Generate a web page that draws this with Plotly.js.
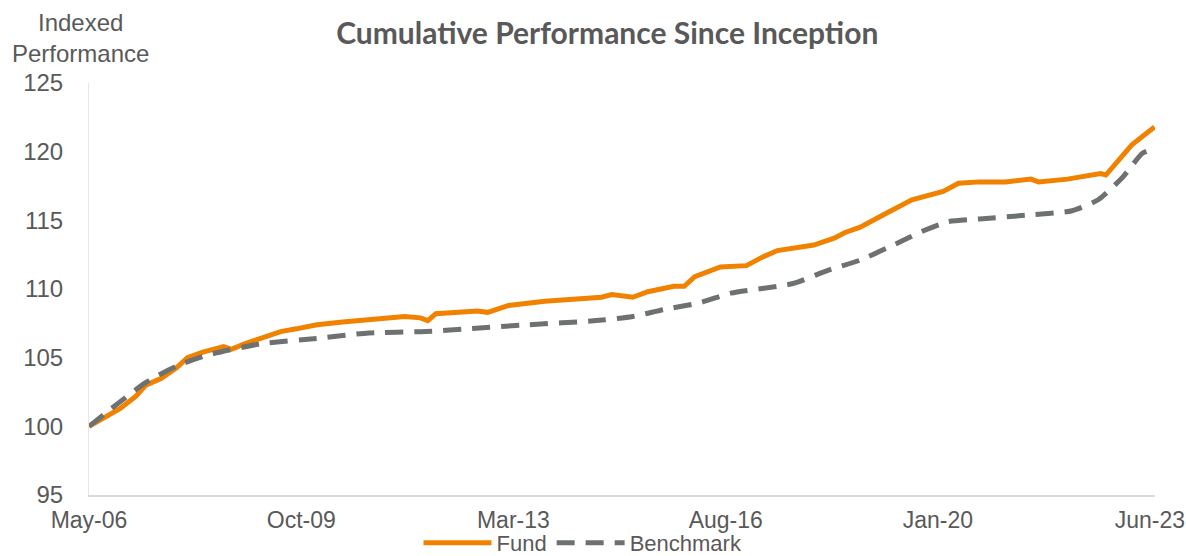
<!DOCTYPE html>
<html>
<head>
<meta charset="utf-8">
<script src="https://cdn.plot.ly/plotly-3.0.1.min.js"></script>
<style>html,body{margin:0;padding:0;background:#fff;}#chart{width:1186px;height:556px;}</style>
</head>
<body>
<div id="chart"></div>
<script>
const fundDates = ["2006-05-01","2006-08-01","2006-11-01","2007-02-01","2007-04-01","2007-07-01","2007-10-01","2007-12-01","2008-03-01","2008-07-01","2008-08-15","2008-11-01","2009-02-01","2009-06-01","2009-09-01","2010-01-01","2010-06-01","2011-01-01","2011-06-01","2011-09-01","2011-10-15","2011-12-01","2012-04-01","2012-08-01","2012-10-01","2013-02-01","2013-09-01","2014-03-01","2014-08-01","2014-10-01","2015-02-01","2015-05-01","2015-10-01","2015-12-01","2016-02-01","2016-07-01","2016-10-01","2016-12-01","2017-03-01","2017-06-01","2018-01-01","2018-05-01","2018-07-01","2018-10-01","2019-03-01","2019-08-01","2020-02-01","2020-05-01","2020-09-01","2021-02-01","2021-07-01","2021-08-15","2022-02-01","2022-08-15","2022-09-15","2022-12-20","2023-02-15","2023-06-28"];
const fundValues = [100.0,100.6,101.3,102.2,103.0,103.5,104.3,105.0,105.4,105.8,105.6,106.0,106.4,106.9,107.1,107.4,107.6,107.8,108.0,107.9,107.7,108.2,108.3,108.4,108.3,108.8,109.1,109.3,109.4,109.6,109.4,109.8,110.2,110.2,110.9,111.6,111.7,111.7,112.3,112.8,113.2,113.7,114.1,114.5,115.5,116.5,117.1,117.7,117.8,117.8,118.0,117.8,118.0,118.4,118.3,119.6,120.5,121.8];

const benchDates = ["2006-05-01","2006-10-01","2007-04-01","2007-10-01","2008-04-01","2009-02-01","2010-01-01","2010-11-01","2011-10-01","2012-06-01","2013-06-01","2014-07-01","2015-02-01","2015-08-01","2016-03-01","2016-09-01","2017-09-01","2018-04-01","2018-10-01","2019-05-01","2019-10-01","2020-03-01","2020-09-01","2021-07-01","2022-03-01","2022-08-01","2022-12-20","2023-04-20","2023-06-28"];
const benchValues = [100.0,101.5,103.2,104.4,105.2,106.0,106.4,106.8,106.9,107.1,107.4,107.7,108.0,108.5,109.0,109.7,110.4,111.4,112.1,113.3,114.2,114.9,115.1,115.4,115.7,116.5,118.1,119.9,120.2];

const tickDates = ["2006-05-01","2009-10-01","2013-03-01","2016-08-01","2020-01-01","2023-06-01"];
const tickLabels = ["May-06","Oct-09","Mar-13","Aug-16","Jan-20","Jun-23"];
const yTicks = [95,100,105,110,115,120,125];

const gray = "#595959";
const txtFont = "Liberation Sans, Arial, sans-serif";
const traces = [
  {x: fundDates, y: fundValues, name: "Fund", type: "scatter", mode: "lines",
   line: {color: "#F08200", width: 5}},
  {x: benchDates, y: benchValues, name: "Benchmark", type: "scatter", mode: "lines",
   line: {color: "#6E7171", width: 5, dash: "18px,11px", shape: "spline", smoothing: 0.6}}
];

const layout = {
  width: 1186, height: 556,
  margin: {l: 89, r: 31, t: 83, b: 61, autoexpand: false},
  paper_bgcolor: "#fff", plot_bgcolor: "#fff",
  font: {family: txtFont, color: gray, size: 24},
  title: {text: "<b>Cumulative Performance Since Inception</b>", x: 0.512, xanchor: "center",
          y: 0.94, yanchor: "middle", font: {family: "Lato, Open Sans, sans-serif", size: 30, color: gray}},
  xaxis: {type: "date", range: ["2006-05-01","2023-07-01"], tickvals: tickDates, ticktext: tickLabels,
          showgrid: false, zeroline: false, showline: true, linecolor: "#D9D9D9", linewidth: 2,
          ticks: "", ticklabelstandoff: 3, ticklabeloverflow: "allow",
          tickfont: {family: txtFont, size: 23, color: gray}},
  yaxis: {range: [95, 125], tickvals: yTicks, showgrid: false, zeroline: false, showline: true,
          linecolor: "#E6E6E6", linewidth: 1, ticks: "", ticklabelstandoff: 20,
          tickfont: {family: txtFont, size: 24, color: gray}},
  legend: {orientation: "h", x: 0.4634, xanchor: "center", y: -0.1165, yanchor: "middle",
           itemwidth: 68,
           font: {family: txtFont, size: 22, color: gray}, bgcolor: "rgba(0,0,0,0)"},
  showlegend: true,
  annotations: [{text: "Indexed<br>Performance", xref: "paper", yref: "paper", x: 0, xanchor: "center",
                 xshift: -9, y: 1.0, yanchor: "bottom", yshift: 14, showarrow: false, align: "center",
                 font: {family: txtFont, size: 24, color: gray}}]
};
Plotly.newPlot("chart", traces, layout, {displayModeBar: false, staticPlot: true});
</script>
</body>
</html>
